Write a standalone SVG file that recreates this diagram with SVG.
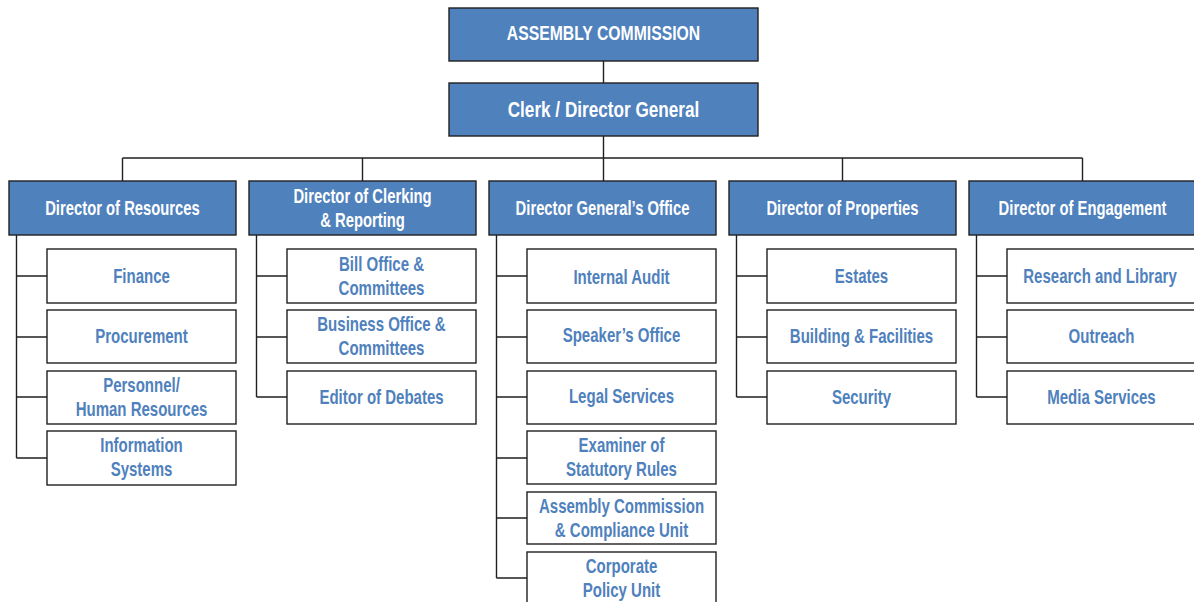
<svg xmlns="http://www.w3.org/2000/svg" width="1194" height="602" viewBox="0 0 1194 602">
<style>
.hd{fill:#4F81BD;stroke:#231F20;stroke-width:1.4}
.ch{fill:#FFFFFF;stroke:#231F20;stroke-width:1.4}
.ln{fill:none;stroke:#231F20;stroke-width:1.4}
text{font-family:"Liberation Sans",Arial,sans-serif;font-weight:bold;text-anchor:middle;dominant-baseline:central}
.wt{fill:#FFFFFF;font-size:19.5px}
.bt{fill:#4F81BD;font-size:19.5px}
.big{fill:#FFFFFF;font-size:21px}
.big2{fill:#FFFFFF;font-size:22px}
</style>
<rect width="1194" height="602" fill="#FFFFFF"/>
<g id="connectors">
<path class="ln" d="M603.5 60V83M603.5 136V181M122.5 158H1082.5M122.5 158V181M362.5 158V181M842.5 158V181M1082.5 158V181"/>
<path class="ln" d="M16.5 235V458M16.5 276H47M16.5 337H47M16.5 397H47M16.5 458H47"/>
<path class="ln" d="M256.5 235V397M256.5 276H287M256.5 337H287M256.5 397H287"/>
<path class="ln" d="M496.5 235V578M496.5 276H527M496.5 337H527M496.5 397H527M496.5 458H527M496.5 518H527M496.5 578H527"/>
<path class="ln" d="M736.5 235V397M736.5 276H767M736.5 337H767M736.5 397H767"/>
<path class="ln" d="M976.5 235V397M976.5 276H1007M976.5 337H1007M976.5 397H1007"/>
</g>
<g id="assembly-commission"><rect class="hd" x="449" y="8" width="309" height="53"/><text class="big" transform="translate(603.5 33) scale(0.75 1)">ASSEMBLY COMMISSION</text></g>
<g id="clerk"><rect class="hd" x="449" y="83" width="309" height="53"/><text class="big2" transform="translate(603.5 109) scale(0.78 1)">Clerk / Director General</text></g>
<g id="dir-resources"><rect class="hd" x="9" y="181" width="227" height="54"/><text class="wt" transform="translate(122.5 208) scale(0.76 1)">Director of Resources</text></g>
<g id="dir-clerking"><rect class="hd" x="249" y="181" width="227" height="54"/><text class="wt" transform="translate(362.5 196) scale(0.76 1)">Director of Clerking</text><text class="wt" transform="translate(362.5 220) scale(0.76 1)">&amp; Reporting</text></g>
<g id="dir-dgoffice"><rect class="hd" x="489" y="181" width="227" height="54"/><text class="wt" transform="translate(602.5 208) scale(0.76 1)">Director General’s Office</text></g>
<g id="dir-properties"><rect class="hd" x="729" y="181" width="227" height="54"/><text class="wt" transform="translate(842.5 208) scale(0.76 1)">Director of Properties</text></g>
<g id="dir-engagement"><rect class="hd" x="969" y="181" width="227" height="54"/><text class="wt" transform="translate(1082.5 208) scale(0.76 1)">Director of Engagement</text></g>

<g id="finance"><rect class="ch" x="47" y="249" width="189" height="54"/><text class="bt" transform="translate(141.5 276) scale(0.77 1)">Finance</text></g>
<g id="procurement"><rect class="ch" x="47" y="310" width="189" height="53"/><text class="bt" transform="translate(141.5 336) scale(0.77 1)">Procurement</text></g>
<g id="personnel"><rect class="ch" x="47" y="371" width="189" height="53"/><text class="bt" transform="translate(141.5 385) scale(0.77 1)">Personnel/</text><text class="bt" transform="translate(141.5 409) scale(0.77 1)">Human Resources</text></g>
<g id="info-systems"><rect class="ch" x="47" y="431" width="189" height="54"/><text class="bt" transform="translate(141.5 445) scale(0.77 1)">Information</text><text class="bt" transform="translate(141.5 469) scale(0.77 1)">Systems</text></g>

<g id="bill-office"><rect class="ch" x="287" y="249" width="189" height="54"/><text class="bt" transform="translate(381.5 264) scale(0.77 1)">Bill Office &amp;</text><text class="bt" transform="translate(381.5 288) scale(0.77 1)">Committees</text></g>
<g id="business-office"><rect class="ch" x="287" y="310" width="189" height="53"/><text class="bt" transform="translate(381.5 324) scale(0.77 1)">Business Office &amp;</text><text class="bt" transform="translate(381.5 348) scale(0.77 1)">Committees</text></g>
<g id="editor-debates"><rect class="ch" x="287" y="371" width="189" height="53"/><text class="bt" transform="translate(381.5 397) scale(0.77 1)">Editor of Debates</text></g>

<g id="internal-audit"><rect class="ch" x="527" y="249" width="189" height="54"/><text class="bt" transform="translate(621.5 277) scale(0.77 1)">Internal Audit</text></g>
<g id="speakers-office"><rect class="ch" x="527" y="310" width="189" height="53"/><text class="bt" transform="translate(621.5 335) scale(0.77 1)">Speaker’s Office</text></g>
<g id="legal-services"><rect class="ch" x="527" y="371" width="189" height="53"/><text class="bt" transform="translate(621.5 396) scale(0.77 1)">Legal Services</text></g>
<g id="examiner"><rect class="ch" x="527" y="431" width="189" height="53"/><text class="bt" transform="translate(621.5 445) scale(0.77 1)">Examiner of</text><text class="bt" transform="translate(621.5 469) scale(0.77 1)">Statutory Rules</text></g>
<g id="compliance-unit"><rect class="ch" x="527" y="492" width="189" height="52"/><text class="bt" transform="translate(621.5 506) scale(0.77 1)">Assembly Commission</text><text class="bt" transform="translate(621.5 530) scale(0.77 1)">&amp; Compliance Unit</text></g>
<g id="corporate-policy"><rect class="ch" x="527" y="552" width="189" height="60"/><text class="bt" transform="translate(621.5 566) scale(0.77 1)">Corporate</text><text class="bt" transform="translate(621.5 590) scale(0.77 1)">Policy Unit</text></g>

<g id="estates"><rect class="ch" x="767" y="249" width="189" height="54"/><text class="bt" transform="translate(861.5 276) scale(0.77 1)">Estates</text></g>
<g id="building-facilities"><rect class="ch" x="767" y="310" width="189" height="53"/><text class="bt" transform="translate(861.5 336) scale(0.77 1)">Building &amp; Facilities</text></g>
<g id="security"><rect class="ch" x="767" y="371" width="189" height="53"/><text class="bt" transform="translate(861.5 397) scale(0.77 1)">Security</text></g>

<g id="research-library"><rect class="ch" x="1007" y="249" width="189" height="54"/><text class="bt" transform="translate(1100 276) scale(0.77 1)">Research and Library</text></g>
<g id="outreach"><rect class="ch" x="1007" y="310" width="189" height="53"/><text class="bt" transform="translate(1101.5 336) scale(0.77 1)">Outreach</text></g>
<g id="media-services"><rect class="ch" x="1007" y="371" width="189" height="53"/><text class="bt" transform="translate(1101.5 397) scale(0.77 1)">Media Services</text></g>
</svg>
